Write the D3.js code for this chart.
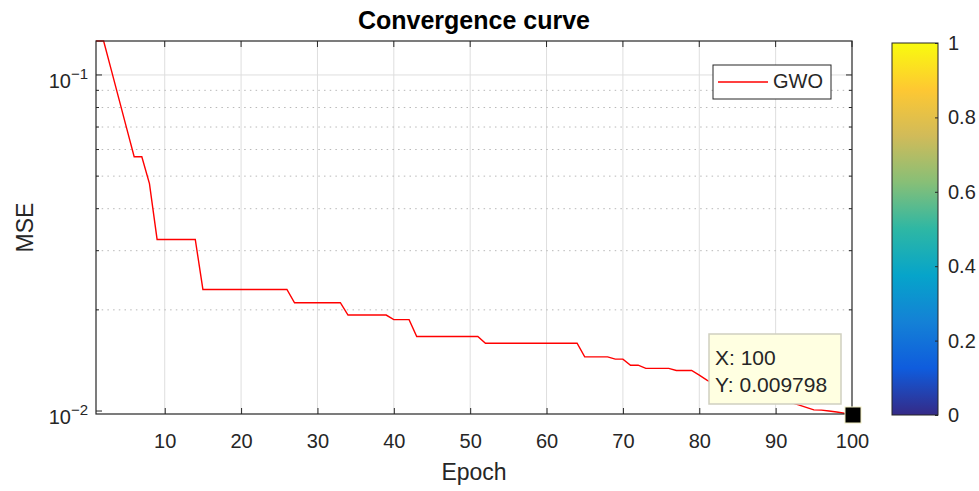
<!DOCTYPE html>
<html lang="en">
<head>
<meta charset="UTF-8">
<title>Convergence curve</title>
<script src="https://cdnjs.cloudflare.com/ajax/libs/d3/7.9.0/d3.min.js"></script>
<style>
  body { margin: 0; background: #fff; }
  svg { font-family: "Liberation Sans", Arial, Helvetica, sans-serif; }
</style>
</head>
<body>
<svg width="979" height="491"></svg>
<script>
// epochs 1..100 and best MSE per epoch
let epochs = d3.range(1, 101);
let mse = [
  0.1262, 0.1262, 0.1035, 0.0849, 0.0696, 0.0571, 0.0571, 0.0475, 0.0324, 0.0324,
  0.0324, 0.0324, 0.0324, 0.0324, 0.0230, 0.0230, 0.0230, 0.0230, 0.0230, 0.0230,
  0.0230, 0.0230, 0.0230, 0.0230, 0.0230, 0.0230, 0.0210, 0.0210, 0.0210, 0.0210,
  0.0210, 0.0210, 0.0210, 0.0193, 0.0193, 0.0193, 0.0193, 0.0193, 0.0193, 0.0187,
  0.0187, 0.0187, 0.01666, 0.01666, 0.01666, 0.01666, 0.01666, 0.01666, 0.01666, 0.01666,
  0.01666, 0.01591, 0.01591, 0.01591, 0.01591, 0.01591, 0.01591, 0.01591, 0.01591, 0.01591,
  0.01591, 0.01591, 0.01591, 0.01591, 0.01449, 0.01449, 0.01449, 0.01449, 0.01427, 0.01427,
  0.01369, 0.01369, 0.01339, 0.01339, 0.01339, 0.01339, 0.01320, 0.01320, 0.01320, 0.01279,
  0.01236, 0.0120, 0.0118, 0.0118, 0.0116, 0.0114, 0.0113, 0.0111, 0.0110, 0.0109,
  0.0107, 0.0106, 0.01043, 0.01025, 0.01008, 0.01006, 0.01000, 0.00993, 0.00985, 0.009798
];
let xTicks = [10, 20, 30, 40, 50, 60, 70, 80, 90, 100];
let yMajor = [0.1, 0.01];
let yMinor = [0.02, 0.03, 0.04, 0.05, 0.06, 0.07, 0.08, 0.09];
let cbTicks = [0, 0.2, 0.4, 0.6, 0.8, 1];
// parula colormap stops
let parula = ["#352A87", "#0F5CDD", "#1481D6", "#06A4CA", "#2EB7A4", "#87BF77", "#D1BB59", "#FEC832", "#F9FB0E"];

let svg = d3.select("svg");
let ink = "#262626";

let axL = 96, axR = 852, axT = 41, axB = 414;

let x = d3.scaleLinear().domain([1, 100]).range([axL, axR]);
let y = d3.scaleLog().domain(d3.extent(mse)).range([axB, axT]);

// grid
let grid = svg.append("g");
grid.selectAll(".gx").data(xTicks.filter(d => d < 100)).join("line")
  .attr("x1", d => x(d)).attr("x2", d => x(d))
  .attr("y1", axT).attr("y2", axB)
  .attr("stroke", "#dedede").attr("stroke-width", 1);
grid.selectAll(".gym").data(yMinor).join("line")
  .attr("x1", axL).attr("x2", axR)
  .attr("y1", d => y(d)).attr("y2", d => y(d))
  .attr("stroke", "#b8b8b8").attr("stroke-width", 1)
  .attr("stroke-dasharray", "1.5,4.2");
grid.selectAll(".gy").data(yMajor.filter(d => y(d) > axT + 2 && y(d) < axB - 4)).join("line")
  .attr("x1", axL).attr("x2", axR)
  .attr("y1", d => y(d)).attr("y2", d => y(d))
  .attr("stroke", "#dedede").attr("stroke-width", 1);

// curve
let line = d3.line().x((d, i) => x(epochs[i])).y(d => y(d));
svg.append("path")
  .datum(mse)
  .attr("d", line)
  .attr("fill", "none")
  .attr("stroke", "#ff0000")
  .attr("stroke-width", 1.4);

// axes box
svg.append("rect")
  .attr("x", axL).attr("y", axT)
  .attr("width", axR - axL).attr("height", axB - axT)
  .attr("fill", "none").attr("stroke", ink).attr("stroke-width", 1.2);

// x axis (ticks inward, bottom and top)
let xAxis = svg.append("g")
  .attr("transform", `translate(0,${axB})`)
  .call(d3.axisBottom(x).tickValues(xTicks).tickSizeInner(-6).tickSizeOuter(0).tickPadding(20).tickFormat(d3.format("d")));
xAxis.select(".domain").remove();
xAxis.selectAll("line").attr("stroke", ink);
xAxis.selectAll("text").attr("font-size", 20).attr("fill", ink);
xAxis.attr("font-family", null);

svg.append("g").selectAll("line").data(xTicks).join("line")
  .attr("x1", d => x(d)).attr("x2", d => x(d))
  .attr("y1", axT).attr("y2", axT + 6)
  .attr("stroke", ink);

// y ticks inward, both sides
let yt = svg.append("g");
yMajor.forEach(v => {
  yt.append("line").attr("x1", axL).attr("x2", axL + 6).attr("y1", y(v)).attr("y2", y(v)).attr("stroke", ink);
  yt.append("line").attr("x1", axR).attr("x2", axR - 6).attr("y1", y(v)).attr("y2", y(v)).attr("stroke", ink);
});
yMinor.forEach(v => {
  yt.append("line").attr("x1", axL).attr("x2", axL + 3).attr("y1", y(v)).attr("y2", y(v)).attr("stroke", ink);
  yt.append("line").attr("x1", axR).attr("x2", axR - 3).attr("y1", y(v)).attr("y2", y(v)).attr("stroke", ink);
});

// y tick labels 10^-1, 10^-2
yMajor.forEach(v => {
  let t = svg.append("text")
    .attr("x", 88).attr("y", y(v) + 13)
    .attr("text-anchor", "end")
    .attr("fill", ink).attr("font-size", 20);
  t.append("tspan").text("10");
  t.append("tspan").attr("dy", -9).attr("font-size", 15).text("\u2212" + Math.round(-Math.log10(v)));
});

// labels
svg.append("text")
  .attr("x", (axL + axR) / 2).attr("y", 29)
  .attr("text-anchor", "middle").attr("font-weight", "bold")
  .attr("font-size", 25).attr("fill", "#000")
  .text("Convergence curve");
svg.append("text")
  .attr("x", (axL + axR) / 2).attr("y", 480)
  .attr("text-anchor", "middle")
  .attr("font-size", 23).attr("fill", ink)
  .text("Epoch");
svg.append("text")
  .attr("transform", `translate(33,${(axT + axB) / 2}) rotate(-90)`)
  .attr("text-anchor", "middle")
  .attr("font-size", 23).attr("fill", ink)
  .text("MSE");

// legend
let lg = svg.append("g");
lg.append("rect").attr("x", 713).attr("y", 65).attr("width", 118).attr("height", 34)
  .attr("fill", "#fff").attr("stroke", ink).attr("stroke-width", 1);
lg.append("line").attr("x1", 718).attr("x2", 768).attr("y1", 82).attr("y2", 82)
  .attr("stroke", "#ff0000").attr("stroke-width", 1.4);
lg.append("text").attr("x", 773).attr("y", 88).attr("font-size", 20).attr("fill", ink).text("GWO");

// data tip at last point
let last = mse.length - 1;
let px = x(epochs[last]), py = y(mse[last]);
let tip = svg.append("g");
tip.append("rect")
  .attr("x", px - 143).attr("y", py - 80)
  .attr("width", 132).attr("height", 70)
  .attr("fill", "#ffffe1").attr("stroke", "#cfcfc0").attr("stroke-width", 1.5);
tip.append("text").attr("x", px - 137).attr("y", py - 49)
  .attr("font-size", 21).attr("fill", ink).text("X: " + epochs[last]);
tip.append("text").attr("x", px - 137).attr("y", py - 22)
  .attr("font-size", 21).attr("fill", ink).text("Y: " + mse[last]);
tip.append("rect")
  .attr("x", px - 7).attr("y", py - 7).attr("width", 16).attr("height", 16)
  .attr("fill", "#000").attr("stroke", "#f0ecc0").attr("stroke-width", 1);

// colorbar
let cbX = 892, cbW = 46, cbTop = 43, cbBottom = 415;
let cb = d3.scaleLinear().domain([0, 1]).range([cbBottom, cbTop]);
let grad = svg.append("defs").append("linearGradient")
  .attr("id", "parula").attr("x1", 0).attr("y1", 1).attr("x2", 0).attr("y2", 0);
grad.selectAll("stop").data(parula).join("stop")
  .attr("offset", (d, i) => i / (parula.length - 1))
  .attr("stop-color", d => d);
svg.append("rect")
  .attr("x", cbX).attr("y", cbTop).attr("width", cbW).attr("height", cbBottom - cbTop)
  .attr("fill", "url(#parula)").attr("stroke", ink).attr("stroke-width", 1);
let cbAxis = svg.append("g")
  .attr("transform", `translate(${cbX + cbW},0)`)
  .call(d3.axisRight(cb).tickValues(cbTicks).tickSizeInner(-3).tickSizeOuter(0).tickPadding(10).tickFormat(d3.format("")));
cbAxis.select(".domain").remove();
cbAxis.selectAll("line").attr("stroke", ink);
cbAxis.selectAll("text").attr("font-size", 20).attr("fill", ink);
cbAxis.attr("font-family", null);
</script>
</body>
</html>
